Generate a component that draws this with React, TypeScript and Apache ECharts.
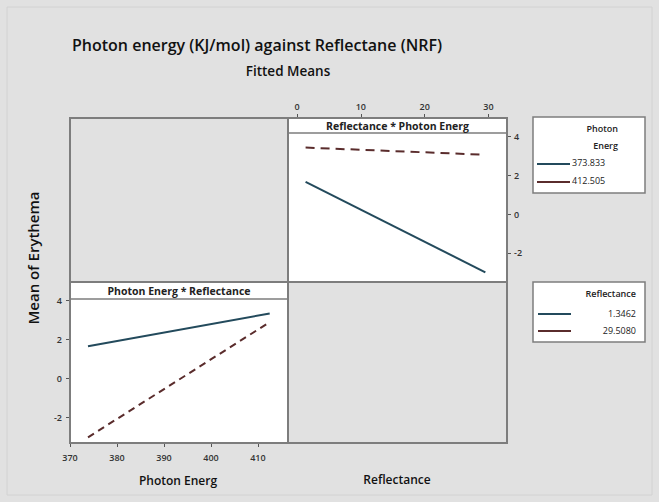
import React, { useEffect, useRef } from "react";
import * as echarts from "echarts";

const titleText = "Photon energy (KJ/mol) against Reflectane (NRF)";
const subtitleText = "Fitted Means";
const yAxisTitle = "Mean of Erythema";
const stripTopRight = "Reflectance * Photon Energ";
const stripBottomLeft = "Photon Energ * Reflectance";
const xTitleLeft = "Photon Energ";
const xTitleRight = "Reflectance";

const photonLevels = ["373.833", "412.505"];
const reflectanceLevels = ["1.3462", "29.5080"];
const photonX = [373.833, 412.505];
const reflectanceX = [1.3462, 29.508];

// Top-right panel: x = Reflectance, one line per Photon Energ level
const trPhoton373 = [1.65, -3.0];
const trPhoton412 = [3.42, 3.05];
// Bottom-left panel: x = Photon Energ, one line per Reflectance level
const blRefl1 = [1.65, 3.32];
const blRefl29 = [-3.0, 2.88];

const trXTicks = [0, 10, 20, 30];
const blXTicks = [370, 380, 390, 400, 410];
const yTicks = [-2, 0, 2, 4];

const C1 = "#234a5c";
const C2 = "#5a2c2c";
const FRAME = "#7d7d7d";
const FONT = "'Open Sans', 'Liberation Sans', sans-serif";

export default function App() {
  const ref = useRef<HTMLDivElement>(null);
  useEffect(() => {
    document.body.style.margin = "0";
    const chart = echarts.init(ref.current!, null, { renderer: "svg" });
    const tickLabel = { fontSize: 9, color: "#333", fontFamily: FONT, fontWeight: 600 };
    const hiddenLine = { show: false, onZero: false };
    const tick = (vals: number[]) => ({ show: true, length: 4, customValues: vals, lineStyle: { color: "#555" } });
    const option: any = {
      animation: false,
      backgroundColor: "#e1e1e1",
      grid: [
        { left: 288, top: 133, width: 219, height: 149, show: true, backgroundColor: "#ffffff", borderWidth: 0 },
        { left: 70, top: 299, width: 218, height: 144, show: true, backgroundColor: "#ffffff", borderWidth: 0 },
      ],
      xAxis: [
        {
          gridIndex: 0, type: "value", position: "top", offset: 15, min: -1.41, max: 32.9,
          axisLine: hiddenLine, axisTick: tick(trXTicks),
          axisLabel: { ...tickLabel, customValues: trXTicks, margin: 7 },
          splitLine: { show: false },
        },
        {
          gridIndex: 1, type: "value", position: "bottom", min: 370, max: 416.4,
          axisLine: hiddenLine, axisTick: tick(blXTicks),
          axisLabel: { ...tickLabel, customValues: blXTicks, margin: 10 },
          splitLine: { show: false },
        },
      ],
      yAxis: [
        {
          gridIndex: 0, type: "value", position: "right", min: -3.5, max: 4.17,
          axisLine: hiddenLine, axisTick: tick(yTicks),
          axisLabel: { ...tickLabel, customValues: yTicks, margin: 7 },
          splitLine: { show: false },
        },
        {
          gridIndex: 1, type: "value", position: "left", min: -3.29, max: 4.06,
          axisLine: hiddenLine, axisTick: tick(yTicks),
          axisLabel: { ...tickLabel, customValues: yTicks, margin: 8 },
          splitLine: { show: false },
        },
      ],
      series: [
        {
          name: photonLevels[0], type: "line", xAxisIndex: 0, yAxisIndex: 0, showSymbol: false,
          data: reflectanceX.map((x, i) => [x, trPhoton373[i]]),
          lineStyle: { color: C1, width: 2 },
        },
        {
          name: photonLevels[1], type: "line", xAxisIndex: 0, yAxisIndex: 0, showSymbol: false,
          data: reflectanceX.map((x, i) => [x, trPhoton412[i]]),
          lineStyle: { color: C2, width: 2, type: [9, 6] },
        },
        {
          name: reflectanceLevels[0], type: "line", xAxisIndex: 1, yAxisIndex: 1, showSymbol: false,
          data: photonX.map((x, i) => [x, blRefl1[i]]),
          lineStyle: { color: C1, width: 2 },
        },
        {
          name: reflectanceLevels[1], type: "line", xAxisIndex: 1, yAxisIndex: 1, showSymbol: false,
          data: photonX.map((x, i) => [x, blRefl29[i]]),
          lineStyle: { color: C2, width: 2, type: [7, 5] },
        },
      ],
      graphic: [
        { type: "rect", shape: { x: 7, y: 7, width: 645, height: 488 }, style: { fill: "none", stroke: "#d2d2d2", lineWidth: 1 }, z: 0 },
        { type: "text", x: 72, y: 45, style: { text: titleText, font: `600 16px ${FONT}`, fill: "#111", textVerticalAlign: "middle" }, z: 10 },
        { type: "text", x: 288, y: 71, style: { text: subtitleText, font: `600 13.5px ${FONT}`, fill: "#111", textAlign: "center", textVerticalAlign: "middle" }, z: 10 },
        // strips
        { type: "rect", shape: { x: 288, y: 118, width: 219, height: 15 }, style: { fill: "#fff", stroke: FRAME, lineWidth: 1.5 }, z: 20 },
        { type: "text", x: 397.5, y: 125.5, style: { text: stripTopRight, font: `bold 10.5px ${FONT}`, fill: "#222", textAlign: "center", textVerticalAlign: "middle" }, z: 21 },
        { type: "rect", shape: { x: 70, y: 282, width: 218, height: 17 }, style: { fill: "#fff", stroke: FRAME, lineWidth: 1.5 }, z: 20 },
        { type: "text", x: 179, y: 290.5, style: { text: stripBottomLeft, font: `bold 10.5px ${FONT}`, fill: "#222", textAlign: "center", textVerticalAlign: "middle" }, z: 21 },
        // frame
        { type: "rect", shape: { x: 70, y: 118, width: 437, height: 325 }, style: { fill: "none", stroke: FRAME, lineWidth: 2 }, z: 30 },
        { type: "line", shape: { x1: 288, y1: 118, x2: 288, y2: 443 }, style: { stroke: FRAME, lineWidth: 2 }, z: 30 },
        { type: "line", shape: { x1: 70, y1: 282, x2: 507, y2: 282 }, style: { stroke: FRAME, lineWidth: 2 }, z: 30 },
        // axis titles
        { type: "text", x: 33, y: 258, rotation: Math.PI / 2, style: { text: yAxisTitle, font: `600 15px ${FONT}`, fill: "#111", textAlign: "center", textVerticalAlign: "middle" }, z: 10 },
        { type: "text", x: 178, y: 480, style: { text: xTitleLeft, font: `600 12px ${FONT}`, fill: "#111", textAlign: "center", textVerticalAlign: "middle" }, z: 10 },
        { type: "text", x: 397, y: 479, style: { text: xTitleRight, font: `600 12px ${FONT}`, fill: "#111", textAlign: "center", textVerticalAlign: "middle" }, z: 10 },
        // legend 1
        { type: "rect", shape: { x: 533, y: 117, width: 112, height: 76 }, style: { fill: "#fff", stroke: FRAME, lineWidth: 1.5 }, z: 20 },
        { type: "text", x: 618, y: 128, style: { text: "Photon", font: `600 9px ${FONT}`, fill: "#222", textAlign: "right", textVerticalAlign: "middle" }, z: 21 },
        { type: "text", x: 618, y: 145, style: { text: "Energ", font: `600 9px ${FONT}`, fill: "#222", textAlign: "right", textVerticalAlign: "middle" }, z: 21 },
        { type: "line", shape: { x1: 537, y1: 164, x2: 570, y2: 164 }, style: { stroke: C1, lineWidth: 2 }, z: 21 },
        { type: "text", x: 572, y: 162, style: { text: photonLevels[0], font: `9px ${FONT}`, fill: "#222", textAlign: "left", textVerticalAlign: "middle" }, z: 21 },
        { type: "line", shape: { x1: 537, y1: 182, x2: 570, y2: 182 }, style: { stroke: C2, lineWidth: 2 }, z: 21 },
        { type: "text", x: 572, y: 180, style: { text: photonLevels[1], font: `9px ${FONT}`, fill: "#222", textAlign: "left", textVerticalAlign: "middle" }, z: 21 },
        // legend 2
        { type: "rect", shape: { x: 533, y: 282, width: 112, height: 60 }, style: { fill: "#fff", stroke: FRAME, lineWidth: 1.5 }, z: 20 },
        { type: "text", x: 636, y: 293, style: { text: "Reflectance", font: `600 9px ${FONT}`, fill: "#222", textAlign: "right", textVerticalAlign: "middle" }, z: 21 },
        { type: "line", shape: { x1: 538, y1: 314, x2: 571, y2: 314 }, style: { stroke: C1, lineWidth: 2 }, z: 21 },
        { type: "text", x: 636, y: 313, style: { text: reflectanceLevels[0], font: `9px ${FONT}`, fill: "#222", textAlign: "right", textVerticalAlign: "middle" }, z: 21 },
        { type: "line", shape: { x1: 538, y1: 331, x2: 571, y2: 331 }, style: { stroke: C2, lineWidth: 2 }, z: 21 },
        { type: "text", x: 636, y: 330, style: { text: reflectanceLevels[1], font: `9px ${FONT}`, fill: "#222", textAlign: "right", textVerticalAlign: "middle" }, z: 21 },
      ],
    };
    chart.setOption(option);
    return () => chart.dispose();
  }, []);
  return <div ref={ref} style={{ position: "absolute", left: 0, top: 0, width: 659, height: 502 }} />;
}
